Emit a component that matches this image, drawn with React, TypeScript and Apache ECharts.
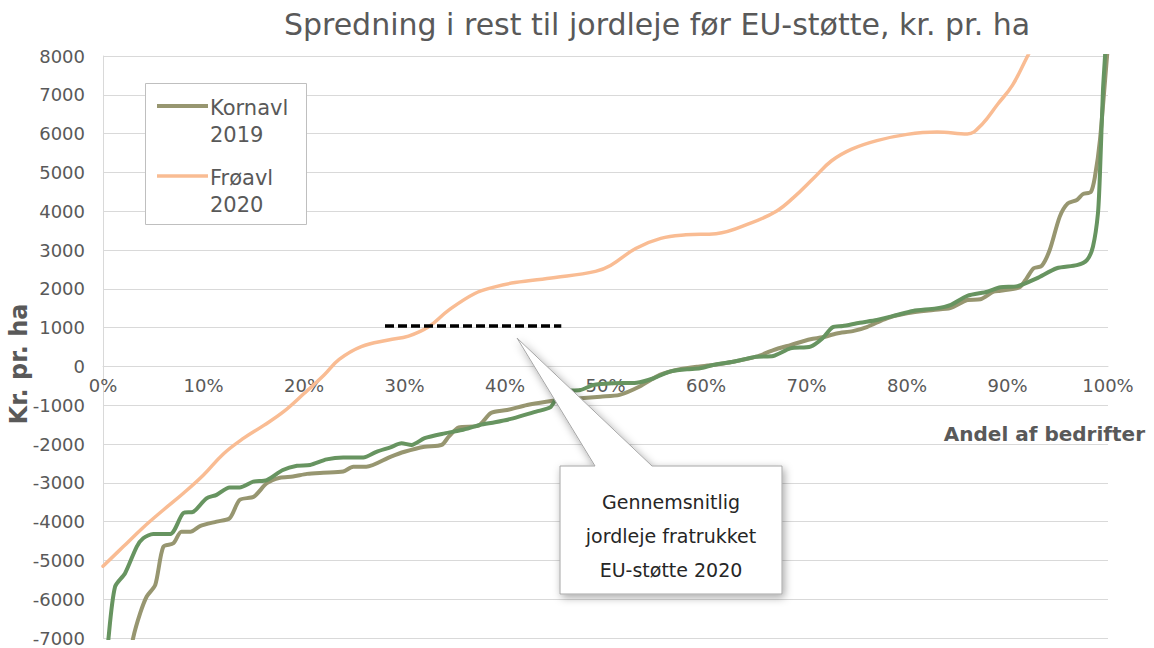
import React, { useEffect, useRef } from "react";
import * as echarts from "echarts";

const TITLE = "Spredning i rest til jordleje før EU-støtte, kr. pr. ha";
const Y_NAME = "Kr. pr. ha";
const X_NAME = "Andel af bedrifter";
const CALLOUT = "Gennemsnitlig\njordleje fratrukket\nEU-støtte 2020";
const LEGEND_A = ["Kornavl", "2019"];
const LEGEND_B = ["Frøavl", "2020"];

const Y_MIN = -7000;
const Y_MAX = 8000;
const Y_STEP = 1000;
const X_MIN = 0;
const X_MAX = 100;
const X_STEP = 10;

// [andel af bedrifter %, kr. pr. ha]
const kornavl2019: [number, number][] = [
  [2.5, -7800], [3, -7000], [3.7, -6360], [4.35, -5930], [5.2, -5630], [6, -4650],
  [7, -4560], [7.8, -4260], [8.7, -4260], [9.65, -4115], [11.3, -4000], [12.6, -3915],
  [13.6, -3440], [15, -3360], [16.3, -3010], [17.6, -2870], [18.9, -2840], [20.3, -2770],
  [21.9, -2740], [23.9, -2710], [24.9, -2585], [26.2, -2585], [28.6, -2330], [30, -2200],
  [32, -2070], [33.7, -2025], [34.4, -1810], [35.4, -1570], [37.3, -1535], [38.6, -1200],
  [40.2, -1125], [42.2, -995], [44.1, -910], [45.5, -865], [47.5, -820], [49.5, -780],
  [51.4, -735], [53.4, -520], [55.4, -220], [57.4, -75], [59.1, -8], [60.7, 35],
  [62.7, 120], [65, 250], [66.7, 420], [68.4, 550], [70.4, 700], [71.6, 750],
  [73, 850], [74.6, 910], [76, 1015], [78, 1240], [80, 1370], [82.6, 1455],
  [84.3, 1500], [86, 1710], [87.3, 1730], [88.6, 1925], [89.3, 1950], [91.2, 2040],
  [91.9, 2270], [92.6, 2530], [93.4, 2590], [94.2, 3000], [95.2, 3860], [96, 4200],
  [96.9, 4290], [97.5, 4440], [98.3, 4500], [98.7, 4890], [99.2, 5835], [99.9, 7980],
  [100, 8300],
];

const kornavlB: [number, number][] = [
  [0.3, -8000], [0.55, -7000], [1.2, -5680], [2.2, -5330], [3.35, -4650], [4, -4430],
  [5, -4320], [6.7, -4320], [8, -3780], [9, -3745], [10.3, -3400], [11.3, -3310],
  [12.6, -3120], [13.6, -3120], [14.95, -2970], [16.3, -2930], [17.9, -2670], [19.3, -2560],
  [20.6, -2540], [22.25, -2395], [23.9, -2345], [25.9, -2345], [27.2, -2200], [28.6, -2085],
  [29.7, -1980], [30.7, -2025], [32, -1850], [34, -1725], [35.7, -1640], [37.5, -1510],
  [39, -1440], [40.8, -1340], [43.1, -1165], [44.5, -1055], [45, -865], [45.5, -650],
  [47.5, -610], [48.8, -480], [50.8, -435], [53.1, -420], [54.8, -305], [56.4, -135],
  [58.1, -75], [59.4, -50], [60.7, 35], [62.7, 120], [65, 250], [66.7, 270],
  [68.4, 465], [70.4, 510], [71.6, 725], [72.6, 1010], [73.6, 1040], [75.3, 1125],
  [77, 1195], [79, 1325], [80.6, 1430], [82.9, 1495], [84.3, 1580], [86, 1820],
  [88, 1925], [89.3, 2040], [91, 2070], [92.9, 2270], [94.9, 2530], [96.9, 2610],
  [97.9, 2740], [98.5, 3085], [99, 3945], [99.2, 4975], [99.5, 7120], [99.7, 7980],
  [99.9, 9000],
];

const froavl2020: [number, number][] = [
  [0, -5150], [2, -4650], [4, -4150], [6, -3700], [8, -3270], [10, -2800],
  [12, -2250], [14, -1850], [16, -1520], [18, -1160], [20, -700], [22, -220],
  [23.5, 180], [25.7, 510], [28.4, 680], [30.4, 780], [32.4, 1020], [34.4, 1450],
  [37, 1880], [39, 2050], [41, 2160], [45, 2290], [49, 2450], [50.5, 2600],
  [53, 3040], [55.5, 3300], [58, 3390], [61, 3420], [64.5, 3700], [67, 4000],
  [68.7, 4350], [70.7, 4850], [72.5, 5300], [74.5, 5600], [77, 5820], [80, 5980],
  [83, 6040], [86, 5990], [87.5, 6250], [89, 6750], [90.5, 7250], [92, 8000],
  [93, 8500],
];

const gennemsnitligJordleje: [number, number][] = [
  [28.06, 1040],
  [45.6, 1040],
];

const FONT = "'DejaVu Sans', 'Liberation Sans', sans-serif";
const GREY_TEXT = "#595959";
const GRID_LINE = "#d9d9d9";
const C_OLIVE = "#979670";
const C_GREEN = "#679460";
const C_PEACH = "#f9bc93";

const GRID_TOP = 56;
const GRID_BOTTOM = 10;
const CHART_H = 648;

export default function App() {
  const ref = useRef<HTMLDivElement>(null);

  useEffect(() => {
    document.body.style.margin = "0";
    if (!ref.current) return;
    const chart = echarts.init(ref.current, undefined, { renderer: "svg" });

    // distance from the grid bottom to the y = 0 line
    const plotH = CHART_H - GRID_TOP - GRID_BOTTOM;
    const zeroFromBottom = (plotH * (0 - Y_MIN)) / (Y_MAX - Y_MIN);

    const lineSeries = (
      name: string,
      data: [number, number][],
      color: string,
      width: number,
      z: number,
      smooth: number
    ) => ({
      name,
      type: "line",
      data,
      symbol: "none",
      smooth,
      clip: true,
      z,
      lineStyle: { color, width, cap: "round", join: "round" },
      itemStyle: { color },
    });

    chart.setOption({
      animation: false,
      grid: { left: 103, right: 46, top: GRID_TOP, bottom: GRID_BOTTOM },
      xAxis: {
        type: "value",
        position: "bottom",
        offset: -zeroFromBottom,
        min: X_MIN,
        max: X_MAX,
        interval: X_STEP,
        axisLine: { show: true, onZero: false, lineStyle: { color: GRID_LINE, width: 1 } },
        axisTick: { show: false },
        splitLine: { show: false },
        axisLabel: {
          formatter: "{value}%",
          color: GREY_TEXT,
          fontSize: 18,
          fontFamily: FONT,
          margin: 10,
        },
      },
      yAxis: {
        type: "value",
        min: Y_MIN,
        max: Y_MAX,
        interval: Y_STEP,
        axisLine: { show: true, lineStyle: { color: GRID_LINE, width: 1 } },
        axisTick: { show: false },
        splitLine: { show: true, lineStyle: { color: GRID_LINE, width: 1 } },
        axisLabel: {
          formatter: (v: number) => String(v),
          color: GREY_TEXT,
          fontSize: 18,
          fontFamily: FONT,
          margin: 18,
        },
      },
      series: [
        lineSeries("Kornavl 2019", kornavl2019, C_OLIVE, 4, 3, 0.25),
        lineSeries("Kornavl", kornavlB, C_GREEN, 4, 4, 0.25),
        lineSeries("Frøavl 2020", froavl2020, C_PEACH, 3.5, 5, 0.4),
        {
          name: "Gennemsnitlig jordleje",
          type: "line",
          data: gennemsnitligJordleje,
          symbol: "none",
          z: 6,
          lineStyle: {
            color: "#000",
            width: 3.5,
            type: [9, 4],
          },
        },
      ],
      graphic: [
        {
          type: "text",
          z: 100,
          x: 657,
          y: 24,
          style: {
            text: TITLE,
            fontSize: 30,
            fontFamily: FONT,
            fill: GREY_TEXT,
            align: "center",
            verticalAlign: "middle",
          },
        },
        {
          type: "text",
          z: 100,
          x: 19,
          y: 364,
          rotation: Math.PI / 2,
          style: {
            text: Y_NAME,
            fontSize: 24,
            fontWeight: "bold",
            fontFamily: FONT,
            fill: GREY_TEXT,
            align: "center",
            verticalAlign: "middle",
          },
        },
        {
          type: "text",
          z: 100,
          x: 1145,
          y: 434,
          style: {
            text: X_NAME,
            fontSize: 20,
            fontWeight: "bold",
            fontFamily: FONT,
            fill: GREY_TEXT,
            align: "right",
            verticalAlign: "middle",
          },
        },
        // legend box
        {
          type: "rect",
          z: 100,
          shape: { x: 145.5, y: 83.5, width: 161, height: 141 },
          style: { fill: "#fff", stroke: "#bfbfbf", lineWidth: 1 },
        },
        {
          type: "line",
          z: 101,
          shape: { x1: 157, y1: 106, x2: 208, y2: 106 },
          style: { stroke: C_OLIVE, lineWidth: 4 },
        },
        {
          type: "line",
          z: 101,
          shape: { x1: 157, y1: 176, x2: 208, y2: 176 },
          style: { stroke: C_PEACH, lineWidth: 3.5 },
        },
        {
          type: "text",
          z: 101,
          x: 210,
          y: 121,
          style: {
            text: LEGEND_A.join("\n"),
            fontSize: 21,
            lineHeight: 27,
            fontFamily: FONT,
            fill: GREY_TEXT,
            align: "left",
            verticalAlign: "middle",
          },
        },
        {
          type: "text",
          z: 101,
          x: 210,
          y: 191,
          style: {
            text: LEGEND_B.join("\n"),
            fontSize: 21,
            lineHeight: 27,
            fontFamily: FONT,
            fill: GREY_TEXT,
            align: "left",
            verticalAlign: "middle",
          },
        },
        // callout
        {
          type: "polygon",
          z: 100,
          shape: {
            points: [
              [560, 466], [595, 466], [517, 338], [652, 466],
              [782, 466], [782, 594], [560, 594],
            ],
          },
          style: {
            fill: "#fff",
            stroke: "#a6a6a6",
            lineWidth: 1,
            shadowBlur: 8,
            shadowColor: "rgba(0,0,0,0.35)",
            shadowOffsetX: 2,
            shadowOffsetY: 3,
          },
        },
        {
          type: "text",
          z: 101,
          x: 671,
          y: 536,
          style: {
            text: CALLOUT,
            fontSize: 19,
            lineHeight: 34,
            fontFamily: FONT,
            fill: "#262626",
            align: "center",
            verticalAlign: "middle",
          },
        },
      ],
    });

    return () => chart.dispose();
  }, []);

  return <div ref={ref} style={{ width: 1154, height: 648 }} />;
}
